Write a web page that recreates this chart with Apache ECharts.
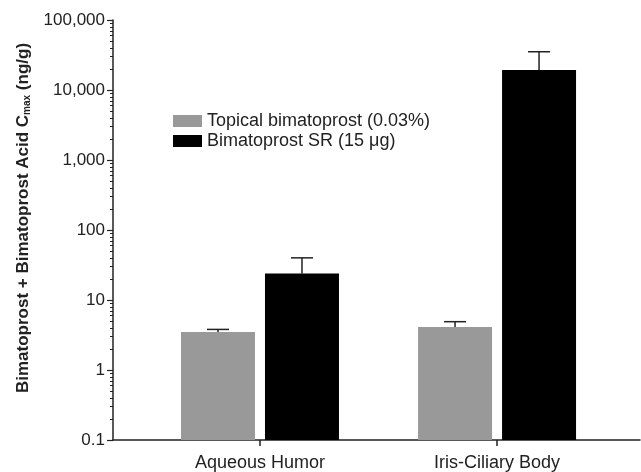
<!DOCTYPE html>
<html>
<head>
<meta charset="utf-8">
<script src="https://cdn.jsdelivr.net/npm/echarts@6/dist/echarts.min.js"></script>
<style>
  html, body { margin: 0; padding: 0; background: #fff; }
  #chart { width: 641px; height: 472px; }
</style>
</head>
<body>
<div id="chart"></div>
<script>
// tissues on the x axis
var categories = ['Aqueous Humor', 'Iris-Ciliary Body'];
var seriesNames = ['Topical bimatoprost (0.03%)', 'Bimatoprost SR (15 μg)'];
// Cmax means (ng/g) and upper error values
var topicalMean = [3.5, 4.1];
var topicalUpper = [3.8, 4.9];
var srMean = [24, 19300];
var srUpper = [40, 35200];
var yTicks = [0.1, 1, 10, 100, 1000, 10000, 100000];

var colors = ['#999999', '#000000'];
var font = '"Liberation Sans", Arial, sans-serif';

// minor ticks 2..9 in each decade
var minorTicks = [];
for (var d = 0; d < yTicks.length - 1; d++) {
  for (var k = 2; k <= 9; k++) minorTicks.push(yTicks[d] * k);
}

function barData(vals) {
  return vals.map(function (v, i) { return [i + 1, v]; });
}
function errData(vals, ups) {
  return vals.map(function (v, i) { return [i + 1, v, ups[i]]; });
}

function makeBar(offset, color) {
  return function (params, api) {
    var top = api.coord([api.value(0), api.value(1)]);
    var base = api.coord([api.value(0), 0.1]);
    var w = 74;
    return {
      type: 'rect',
      shape: { x: top[0] + offset - w / 2, y: top[1], width: w, height: base[1] - top[1] },
      style: { fill: color }
    };
  };
}
function makeErr(offset) {
  return function (params, api) {
    var top = api.coord([api.value(0), api.value(1)]);
    var up = api.coord([api.value(0), api.value(2)]);
    var x = top[0] + offset;
    var c = 11;
    return {
      type: 'group',
      children: [
        { type: 'line', shape: { x1: x, y1: top[1], x2: x, y2: up[1] }, style: { stroke: '#222', lineWidth: 1.5 } },
        { type: 'line', shape: { x1: x - c, y1: up[1], x2: x + c, y2: up[1] }, style: { stroke: '#222', lineWidth: 1.5 } }
      ]
    };
  };
}

var chart = echarts.init(document.getElementById('chart'));
chart.setOption({
  animation: false,
  textStyle: { fontFamily: font },
  grid: { left: 113, right: 1, top: 20, bottom: 32 },
  legend: {
    orient: 'vertical',
    left: 168,
    top: 107,
    itemWidth: 29,
    itemHeight: 12,
    itemGap: 2,
    icon: 'rect',
    data: seriesNames,
    textStyle: { fontSize: 18, color: '#222', fontFamily: font },
    selectedMode: false
  },
  xAxis: {
    type: 'value',
    min: 0.38,
    max: 2.603,
    axisLine: { lineStyle: { color: '#222', width: 1.5 } },
    axisTick: { show: true, customValues: [1, 2], length: 6, lineStyle: { color: '#222', width: 1.5 } },
    axisLabel: {
      customValues: [1, 2],
      formatter: function (v) { return categories[Math.round(v) - 1]; },
      fontSize: 18, color: '#222', margin: 14, fontFamily: font
    },
    splitLine: { show: false }
  },
  yAxis: [{
    type: 'log',
    min: 0.1,
    max: 100000,
    logBase: 10,
    name: 'Bimatoprost + Bimatoprost Acid C{sub|max} (ng/g)',
    nameLocation: 'middle',
    nameGap: 76,
    nameRotate: 90,
    nameTextStyle: {
      fontSize: 17, fontWeight: 'bold', color: '#222', fontFamily: font, padding: [0, 0, 0, 24],
      rich: { sub: { fontSize: 10, fontWeight: 'bold', color: '#222', verticalAlign: 'bottom', padding: [9, 0, 0, 0], fontFamily: font } }
    },
    axisLine: { show: true, lineStyle: { color: '#222', width: 1.5 } },
    axisTick: { show: true, customValues: yTicks, length: 6, lineStyle: { color: '#222', width: 1.2 } },
    axisLabel: {
      customValues: yTicks,
      formatter: function (v) { return v < 1 ? String(v) : v.toLocaleString('en-US'); },
      fontSize: 17, color: '#222', margin: 8, fontFamily: font
    },
    splitLine: { show: false }
  }, {
    type: 'log',
    min: 0.1,
    max: 100000,
    position: 'left',
    axisLine: { show: false },
    axisTick: { show: true, customValues: minorTicks, length: 3, lineStyle: { color: '#222', width: 1 } },
    axisLabel: { show: false },
    splitLine: { show: false }
  }],
  series: [
    { name: seriesNames[0], type: 'custom', itemStyle: { color: colors[0] }, renderItem: makeBar(-42, colors[0]), data: barData(topicalMean), z: 2 },
    { name: seriesNames[1], type: 'custom', itemStyle: { color: colors[1] }, renderItem: makeBar(42, colors[1]), data: barData(srMean), z: 2 },
    { type: 'custom', renderItem: makeErr(-42), data: errData(topicalMean, topicalUpper), z: 1 },
    { type: 'custom', renderItem: makeErr(42), data: errData(srMean, srUpper), z: 1 }
  ]
});
</script>
</body>
</html>
